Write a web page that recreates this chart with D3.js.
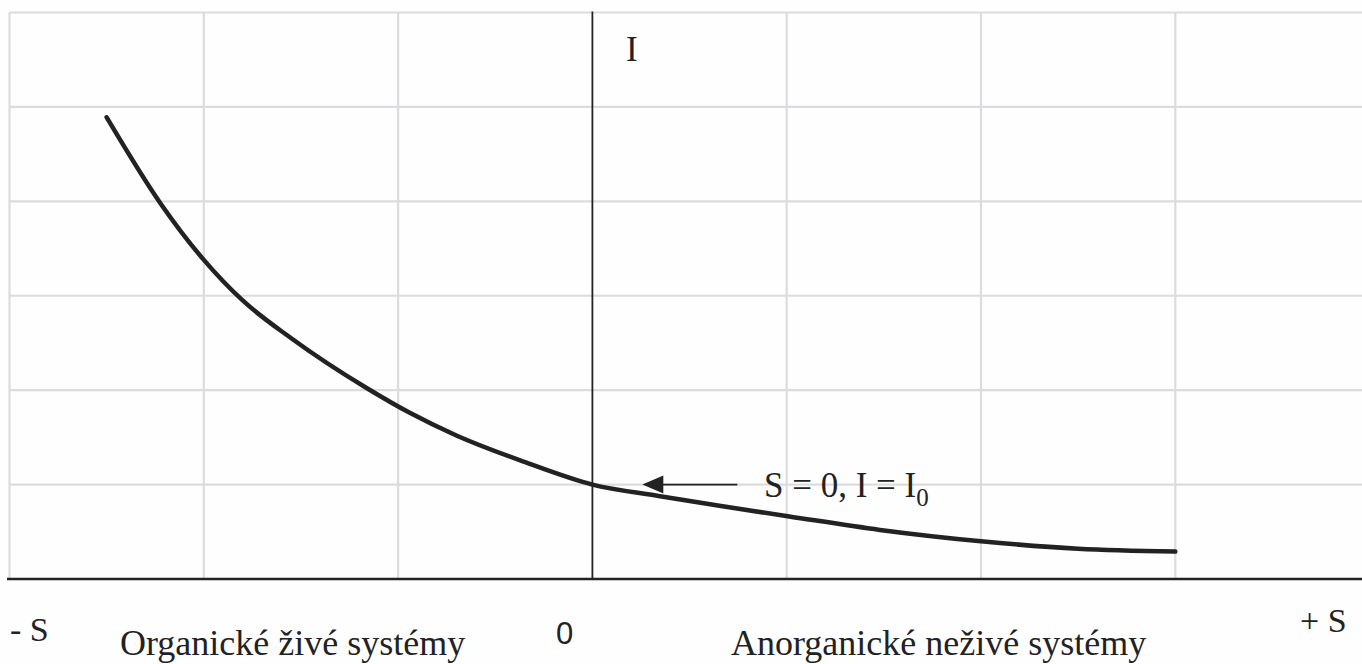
<!DOCTYPE html>
<html>
<head>
<meta charset="utf-8">
<script src="https://cdn.jsdelivr.net/npm/d3@7"></script>
<style>
  html, body { margin: 0; padding: 0; background: #fefefe; }
  svg { display: block; }
  .serif { font-family: "Liberation Serif", "Tinos", "Times New Roman", "DejaVu Serif", serif; }
  .sans { font-family: "Liberation Sans", Arial, "DejaVu Sans", sans-serif; }
</style>
</head>
<body>
<main></main>
<script>
// curve I(S) (grid units)
const sValues = [-2.5, -2.22, -2.0, -1.8, -1.55, -1.16, -0.94, -0.7, -0.35, 0, 0.34, 0.67, 1.02, 1.48, 2.0, 2.5, 3.0];
const iValues = [4.89, 3.97, 3.38, 2.95, 2.55, 2.02, 1.76, 1.52, 1.24, 1.0, 0.88, 0.77, 0.66, 0.52, 0.40, 0.32, 0.29];

const xGrid = [-3, -2, -1, 1, 2, 3];
const yGrid = [1, 2, 3, 4, 5, 6];

const bottomLabels = ["- S", "Organické živé systémy", "0", "Anorganické neživé systémy", "+ S"];

const width = 1362,
  height = 664;

const svg = d3.select("main").append("svg")
  .attr("width", width)
  .attr("height", height);

const x = d3.scaleLinear().domain([-3, 4]).range([9.5, 1369.6]);
const y = d3.scaleLinear().domain([0, 6]).range([579, 12.5]);

// grid
svg.append("g").selectAll("line")
  .data(xGrid)
  .enter().append("line")
  .attr("x1", d => x(d)).attr("x2", d => x(d))
  .attr("y1", y(6)).attr("y2", y(0))
  .attr("stroke", "#dcdce0")
  .attr("stroke-width", 2.2);

svg.append("g").selectAll("line")
  .data(yGrid)
  .enter().append("line")
  .attr("x1", x(-3)).attr("x2", width)
  .attr("y1", d => y(d)).attr("y2", d => y(d))
  .attr("stroke", "#dcdce0")
  .attr("stroke-width", 2.2);

// axes
svg.append("line")
  .attr("x1", 7).attr("x2", width)
  .attr("y1", y(0)).attr("y2", y(0))
  .attr("stroke", "#222")
  .attr("stroke-width", 2.5);

svg.append("line")
  .attr("x1", x(0)).attr("x2", x(0))
  .attr("y1", y(6) - 1).attr("y2", y(0))
  .attr("stroke", "#222")
  .attr("stroke-width", 1.8);

// the curve
const pts = sValues.map((s, i) => [s, iValues[i]]);
const line = d3.line()
  .x(d => x(d[0]))
  .y(d => y(d[1]))
  .curve(d3.curveMonotoneX);

svg.append("path")
  .datum(pts)
  .attr("d", line)
  .attr("fill", "none")
  .attr("stroke", "#222")
  .attr("stroke-width", 4.5)
  .attr("stroke-linecap", "round");

// arrow pointing at S = 0, I = I0
const arrowY = y(1);
const tipX = x(0.257), tailX = x(0.746);
svg.append("line")
  .attr("x1", tipX + 15).attr("x2", tailX)
  .attr("y1", arrowY).attr("y2", arrowY)
  .attr("stroke", "#222")
  .attr("stroke-width", 1.6);
svg.append("path")
  .attr("d", `M${tipX},${arrowY}L${tipX + 21},${arrowY - 9}L${tipX + 21},${arrowY + 9}Z`)
  .attr("fill", "#222");

const note = svg.append("text")
  .attr("class", "serif")
  .attr("x", 764)
  .attr("y", 497)
  .attr("font-size", 35)
  .attr("fill", "#222")
  .text("S = 0, I = I");
note.append("tspan")
  .attr("dy", 9)
  .attr("font-size", 25)
  .text("0");

svg.append("text")
  .attr("class", "serif")
  .attr("x", 626)
  .attr("y", 61)
  .attr("font-size", 35)
  .attr("fill", "#222")
  .text("I");

// labels under the axis
const labelPos = [
  { x: 10, y: 641, cls: "serif", size: 34 },
  { x: 120, y: 655, cls: "serif", size: 36 },
  { x: 556, y: 644, cls: "sans", size: 31 },
  { x: 731, y: 655, cls: "serif", size: 36 },
  { x: 1300, y: 632, cls: "serif", size: 34 }
];

svg.append("g").selectAll("text")
  .data(bottomLabels)
  .enter().append("text")
  .attr("class", (d, i) => labelPos[i].cls)
  .attr("x", (d, i) => labelPos[i].x)
  .attr("y", (d, i) => labelPos[i].y)
  .attr("font-size", (d, i) => labelPos[i].size)
  .attr("fill", "#222")
  .text(d => d);
</script>
</body>
</html>
